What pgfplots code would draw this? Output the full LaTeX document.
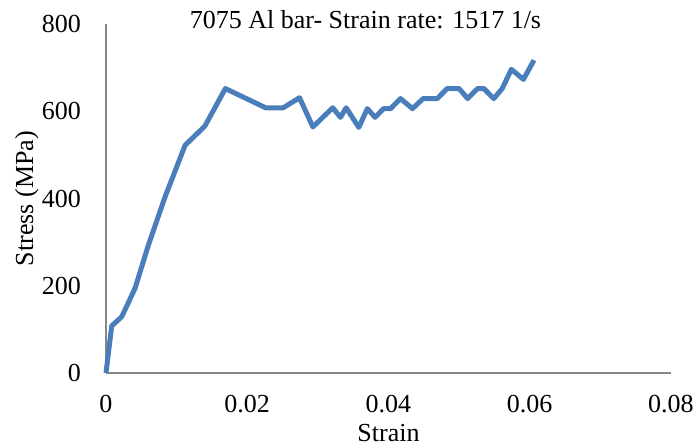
\documentclass[border=0pt]{standalone}
\usepackage{fontspec}
\setmainfont{Liberation Serif}
\usepackage{pgfplots}
\pgfplotsset{compat=1.18}
\definecolor{excelblue}{HTML}{4A7EBB}
\definecolor{axgray}{HTML}{868686}
\begin{document}
\begin{tikzpicture}
\begin{axis}[
  at={(0pt,0pt)}, anchor=south west,
  scale only axis, width=565pt, height=349pt,
  xmin=0, xmax=0.08, ymin=0, ymax=800,
  xtick={0,0.02,0.04,0.06,0.08},
  ytick={0,200,400,600,800},
  scaled ticks=false,
  axis x line=bottom, axis y line=left,
  axis line style={-, draw=axgray, line width=1.5pt},
  major tick length=0pt,
  clip=false,
  /pgf/number format/assume math mode=true,
  xticklabel style={/pgf/number format/fixed, /pgf/number format/precision=2,
    font=\fontsize{26}{30}\selectfont, anchor=north, inner sep=0pt, yshift=-22pt},
  yticklabel style={font=\fontsize{26}{30}\selectfont, anchor=east, inner sep=0pt, xshift=-25pt},
  xlabel={Strain},
  ylabel={Stress (MPa)},
  xlabel style={font=\fontsize{26}{30}\selectfont, at={(axis description cs:0.5,-0.1977)}, anchor=base, inner sep=0pt},
  ylabel style={font=\fontsize{26}{30}\selectfont, at={(axis description cs:-0.1292,0.5)}, anchor=base, inner sep=0pt},
  title={7075 Al bar- Strain rate: 1517 1/s},
  title style={font=\fontsize{26}{30}\selectfont, at={(axis description cs:0.4593,0.970)}, anchor=base, inner sep=0pt},
]
\addplot[color=excelblue, line width=5pt, line join=round, mark=none] coordinates {
(0,0)
(0.00081,108)
(0.00223,129)
(0.00411,194)
(0.0060,293)
(0.00837,404)
(0.0112,522)
(0.0140,566)
(0.0169,652)
(0.0226,608)
(0.0251,608)
(0.0274,631)
(0.0293,564)
(0.0321,608)
(0.0332,586)
(0.0340,608)
(0.0358,563)
(0.0370,606)
(0.0381,586)
(0.0393,606)
(0.0403,606)
(0.0417,629)
(0.0434,606)
(0.0449,629)
(0.0469,629)
(0.0483,652)
(0.0500,652)
(0.0512,629)
(0.0526,652)
(0.0535,652)
(0.0549,629)
(0.0561,652)
(0.0574,696)
(0.0591,673)
(0.0606,717)
};
\end{axis}
\pgfresetboundingbox
\useasboundingbox (-106pt,-74pt) rectangle (592pt,373pt);
\end{tikzpicture}
\end{document}
